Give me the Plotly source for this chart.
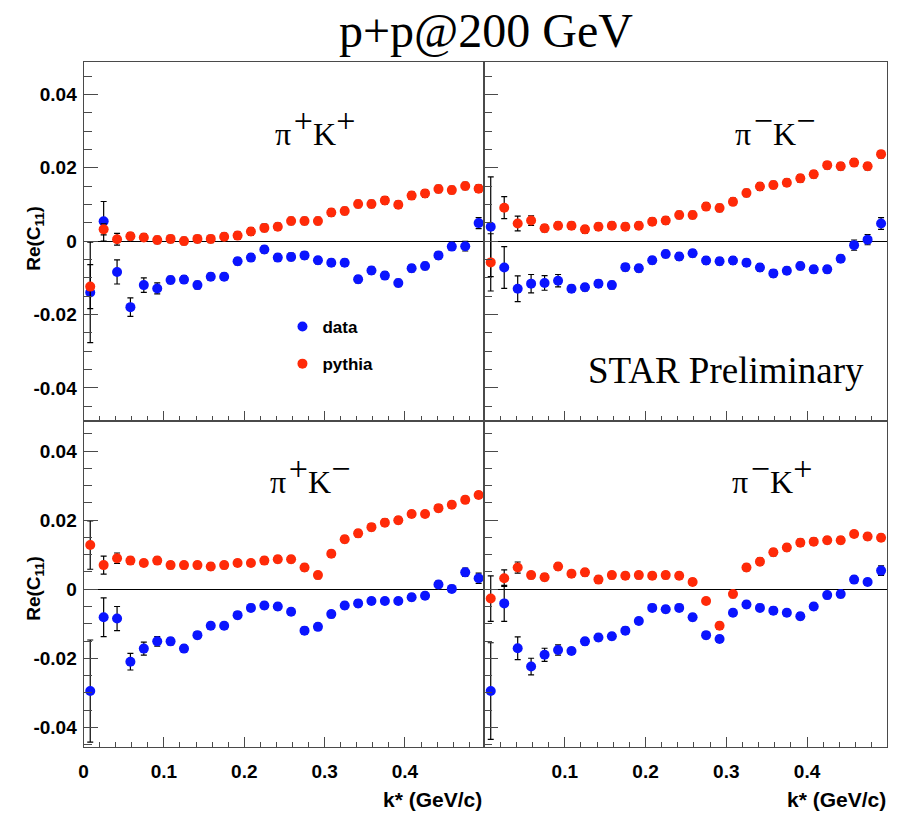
import plotly.graph_objects as go

# Bin centres of k* (GeV/c), 30 bins over 0-0.5
k_star = [0.0083, 0.0250, 0.0417, 0.0583, 0.0750, 0.0917, 0.1083, 0.1250, 0.1417, 0.1583,
          0.1750, 0.1917, 0.2083, 0.2250, 0.2417, 0.2583, 0.2750, 0.2917, 0.3083, 0.3250,
          0.3417, 0.3583, 0.3750, 0.3917, 0.4083, 0.4250, 0.4417, 0.4583, 0.4750, 0.4917]

# pi+ K+
pipkp_data = [-0.0140, 0.0054, -0.0084, -0.0180, -0.0120, -0.0129, -0.0106, -0.0105, -0.0120, -0.0097,
              -0.0097, -0.0055, -0.0045, -0.0023, -0.0045, -0.0043, -0.0039, -0.0052, -0.0059, -0.0059,
              -0.0104, -0.0080, -0.0094, -0.0114, -0.0074, -0.0068, -0.0039, -0.0015, -0.0014, 0.0049]
pipkp_data_err = [0.0137, 0.0054, 0.0033, 0.0025, 0.0020, 0.0015, 0.0010, 0.0010, 0.0010, 0.0010,
                  0.0010, 0.0010, 0.0010, 0.0010, 0.0010, 0.0010, 0.0010, 0.0010, 0.0010, 0.0010,
                  0.0010, 0.0010, 0.0010, 0.0010, 0.0010, 0.0010, 0.0010, 0.0010, 0.0013, 0.0015]
pipkp_pythia = [-0.0124, 0.0032, 0.0005, 0.0013, 0.0010, 0.0003, 0.0006, 0.0000, 0.0006, 0.0006,
                0.0012, 0.0015, 0.0026, 0.0036, 0.0039, 0.0055, 0.0055, 0.0055, 0.0078, 0.0082,
                0.0101, 0.0101, 0.0111, 0.0099, 0.0124, 0.0130, 0.0142, 0.0139, 0.0150, 0.0143]
pipkp_pythia_err = [0.0060, 0.0015, 0.0016, 0.0010, 0.0010, 0.0010, 0.0010, 0.0010, 0.0010, 0.0010,
                    0.0010, 0.0010, 0.0010, 0.0010, 0.0010, 0.0010, 0.0010, 0.0010, 0.0010, 0.0010,
                    0.0010, 0.0010, 0.0010, 0.0010, 0.0010, 0.0010, 0.0010, 0.0010, 0.0010, 0.0010]

# pi- K-
pimkm_data = [0.0039, -0.0072, -0.0130, -0.0116, -0.0114, -0.0108, -0.0130, -0.0126, -0.0116, -0.0120,
              -0.0071, -0.0074, -0.0052, -0.0035, -0.0042, -0.0033, -0.0053, -0.0055, -0.0053, -0.0059,
              -0.0072, -0.0088, -0.0081, -0.0068, -0.0077, -0.0077, -0.0048, -0.0011, 0.0004, 0.0048]
pimkm_data_err = [0.0136, 0.0057, 0.0035, 0.0025, 0.0020, 0.0017, 0.0010, 0.0010, 0.0010, 0.0010,
                  0.0010, 0.0010, 0.0010, 0.0010, 0.0010, 0.0010, 0.0010, 0.0010, 0.0010, 0.0010,
                  0.0010, 0.0010, 0.0010, 0.0010, 0.0010, 0.0010, 0.0010, 0.0014, 0.0014, 0.0016]
pimkm_pythia = [-0.0058, 0.0091, 0.0048, 0.0056, 0.0035, 0.0042, 0.0042, 0.0032, 0.0039, 0.0042,
                0.0039, 0.0042, 0.0053, 0.0056, 0.0071, 0.0071, 0.0094, 0.0090, 0.0107, 0.0131,
                0.0149, 0.0153, 0.0159, 0.0171, 0.0182, 0.0207, 0.0204, 0.0214, 0.0204, 0.0237]
pimkm_pythia_err = [0.0078, 0.0030, 0.0020, 0.0013, 0.0010, 0.0010, 0.0010, 0.0010, 0.0010, 0.0010,
                    0.0010, 0.0010, 0.0010, 0.0010, 0.0010, 0.0010, 0.0010, 0.0010, 0.0010, 0.0010,
                    0.0010, 0.0010, 0.0010, 0.0010, 0.0010, 0.0010, 0.0010, 0.0010, 0.0010, 0.0010]

# pi+ K-
pipkm_data = [-0.0295, -0.0081, -0.0085, -0.0210, -0.0172, -0.0151, -0.0151, -0.0172, -0.0133, -0.0106,
              -0.0106, -0.0075, -0.0054, -0.0047, -0.0050, -0.0065, -0.0120, -0.0109, -0.0072, -0.0047,
              -0.0041, -0.0034, -0.0034, -0.0034, -0.0023, -0.0019, 0.0014, 0.0001, 0.0049, 0.0032]
pipkm_data_err = [0.0148, 0.0056, 0.0035, 0.0024, 0.0019, 0.0014, 0.0010, 0.0010, 0.0010, 0.0010,
                  0.0010, 0.0010, 0.0010, 0.0010, 0.0010, 0.0010, 0.0010, 0.0010, 0.0010, 0.0010,
                  0.0010, 0.0010, 0.0010, 0.0010, 0.0010, 0.0010, 0.0010, 0.0010, 0.0012, 0.0015]
pipkm_pythia = [0.0128, 0.0070, 0.0090, 0.0083, 0.0076, 0.0083, 0.0070, 0.0070, 0.0070, 0.0066,
                0.0070, 0.0076, 0.0076, 0.0083, 0.0087, 0.0087, 0.0063, 0.0041, 0.0103, 0.0145,
                0.0162, 0.0180, 0.0193, 0.0200, 0.0218, 0.0218, 0.0235, 0.0245, 0.0259, 0.0273]
pipkm_pythia_err = [0.0070, 0.0026, 0.0015, 0.0010, 0.0010, 0.0010, 0.0010, 0.0010, 0.0010, 0.0010,
                    0.0010, 0.0010, 0.0010, 0.0010, 0.0010, 0.0010, 0.0010, 0.0010, 0.0010, 0.0010,
                    0.0010, 0.0010, 0.0010, 0.0010, 0.0010, 0.0010, 0.0010, 0.0010, 0.0010, 0.0010]

# pi- K+
pimkp_data = [-0.0295, -0.0041, -0.0171, -0.0224, -0.0190, -0.0176, -0.0179, -0.0151, -0.0140, -0.0136,
              -0.0120, -0.0092, -0.0054, -0.0058, -0.0054, -0.0081, -0.0133, -0.0144, -0.0068, -0.0044,
              -0.0054, -0.0062, -0.0068, -0.0078, -0.0050, -0.0017, -0.0014, 0.0028, 0.0021, 0.0054]
pimkp_data_err = [0.0140, 0.0052, 0.0033, 0.0024, 0.0019, 0.0015, 0.0010, 0.0010, 0.0010, 0.0010,
                  0.0010, 0.0010, 0.0010, 0.0010, 0.0010, 0.0010, 0.0010, 0.0010, 0.0010, 0.0010,
                  0.0010, 0.0010, 0.0010, 0.0010, 0.0010, 0.0010, 0.0010, 0.0010, 0.0010, 0.0014]
pimkp_pythia = [-0.0027, 0.0032, 0.0063, 0.0041, 0.0035, 0.0066, 0.0045, 0.0049, 0.0028, 0.0041,
                0.0039, 0.0041, 0.0039, 0.0041, 0.0039, 0.0021, -0.0034, -0.0106, -0.0014, 0.0063,
                0.0080, 0.0107, 0.0121, 0.0135, 0.0138, 0.0142, 0.0142, 0.0160, 0.0153, 0.0149]
pimkp_pythia_err = [0.0066, 0.0024, 0.0016, 0.0010, 0.0010, 0.0010, 0.0010, 0.0010, 0.0010, 0.0010,
                    0.0010, 0.0010, 0.0010, 0.0010, 0.0010, 0.0010, 0.0010, 0.0010, 0.0010, 0.0010,
                    0.0010, 0.0010, 0.0010, 0.0010, 0.0010, 0.0010, 0.0010, 0.0010, 0.0010, 0.0010]

pair_charges = [("+", "+"), ("−", "−"), ("+", "−"), ("−", "+")]
series_names = ["data", "pythia"]

x_tick_vals = [0, 0.1, 0.2, 0.3, 0.4]
x_tick_text = ["0", "0.1", "0.2", "0.3", "0.4"]
y_tick_vals = [-0.04, -0.02, 0, 0.02, 0.04]
y_tick_text = ["-0.04", "-0.02", "0", "0.02", "0.04"]

DATA_COLOR = "#0a14ff"
PYTHIA_COLOR = "#ff2a08"
FRAME = "#4a4a4a"
SANS = "Liberation Sans"
SERIF = "Liberation Serif"

W, H = 901, 814


def fx(p):
    return p / W


def fy(p):
    return 1 - p / H


def pair_label(pion_charge, kaon_charge):
    sup = '<sup><span style="font-size:34px">{}</span></sup>'
    return "π\u200a" + sup.format(pion_charge) + "K" + sup.format(kaon_charge)


# pixel layout of the 2x2 pad grid
col_px = [(79.0, 481.7), (481.7, 887.3)]
row_px = [(61.7, 420.5), (420.5, 747.3)]
x_ranges = [[0, 0.4984], [0, 0.4995]]
y_ranges = [[-0.0489, 0.0489], [-0.0458, 0.0489]]

panels = [
    (pipkp_data, pipkp_data_err, pipkp_pythia, pipkp_pythia_err),
    (pimkm_data, pimkm_data_err, pimkm_pythia, pimkm_pythia_err),
    (pipkm_data, pipkm_data_err, pipkm_pythia, pipkm_pythia_err),
    (pimkp_data, pimkp_data_err, pimkp_pythia, pimkp_pythia_err),
]

fig = go.Figure()
layout_axes = {}

for i, (d, de, p, pe) in enumerate(panels):
    row, col = divmod(i, 2)
    n = i + 1
    xa = "x" if n == 1 else f"x{n}"
    ya = "y" if n == 1 else f"y{n}"
    for name, vals, errs, color in [(series_names[0], d, de, DATA_COLOR),
                                    (series_names[1], p, pe, PYTHIA_COLOR)]:
        fig.add_trace(go.Scatter(
            x=k_star, y=vals, mode="markers", name=name,
            legendgroup=name, showlegend=(i == 0),
            marker=dict(color=color, size=10, line=dict(width=0)),
            error_y=dict(type="data", array=errs, color="black", thickness=1.2, width=3),
            xaxis=xa, yaxis=ya,
        ))

    xk = "xaxis" if n == 1 else f"xaxis{n}"
    yk = "yaxis" if n == 1 else f"yaxis{n}"
    x0, x1 = col_px[col]
    y0, y1 = row_px[row]
    show_x_labels = row == 1
    xt = list(x_tick_text)
    if col == 1:
        xt[0] = ""
    layout_axes[xk] = dict(
        domain=[fx(x0), fx(x1)], range=x_ranges[col], anchor=ya,
        showline=True, linecolor=FRAME, linewidth=1, mirror=True,
        ticks="inside", ticklen=10, tickwidth=1.2, tickcolor=FRAME,
        tickmode="array", tickvals=x_tick_vals, ticktext=xt,
        showticklabels=show_x_labels, ticklabelstandoff=7,
        tickfont=dict(family=SANS, size=19, color="black", weight="bold"),
        minor=dict(dtick=0.02, tick0=0, ticks="inside", ticklen=5, tickwidth=1.2, tickcolor=FRAME),
        showgrid=False, zeroline=False,
    )
    layout_axes[yk] = dict(
        domain=[fy(y1), fy(y0)], range=y_ranges[row], anchor=xa,
        showline=True, linecolor=FRAME, linewidth=1, mirror=True,
        ticks="inside", ticklen=14, tickwidth=1.2, tickcolor=FRAME,
        tickmode="array", tickvals=y_tick_vals, ticktext=y_tick_text,
        showticklabels=(col == 0), ticklabelstandoff=2,
        tickfont=dict(family=SANS, size=19, color="black", weight="bold"),
        minor=dict(dtick=0.005, tick0=0, ticks="inside", ticklen=8, tickwidth=1.2, tickcolor=FRAME),
        showgrid=False, zeroline=True, zerolinecolor="black", zerolinewidth=1.2,
    )

annotations = []
# panel labels
label_pos = [(312, 127), (774, 127), (307, 475), (771, 475)]
for (qpi, qk), (px, py) in zip(pair_charges, label_pos):
    annotations.append(dict(text=pair_label(qpi, qk), x=fx(px), y=fy(py), xref="paper", yref="paper",
                            showarrow=False, xanchor="center", yanchor="middle",
                            font=dict(family=SERIF, size=32, color="black")))
# title
annotations.append(dict(text="p+p@200 GeV", x=fx(484), y=fy(30), xref="paper", yref="paper",
                        showarrow=False, xanchor="center", yanchor="middle",
                        font=dict(family=SERIF, size=48, color="black")))
# preliminary tag
annotations.append(dict(text="STAR Preliminary", x=fx(725), y=fy(370), xref="paper", yref="paper",
                        showarrow=False, xanchor="center", yanchor="middle",
                        font=dict(family=SERIF, size=37, color="black")))
# y-axis titles
for py in (238, 588):
    annotations.append(dict(text="Re(C<sub>11</sub>)", x=fx(30), y=fy(py), xref="paper", yref="paper",
                            showarrow=False, xanchor="center", yanchor="middle", textangle=-90,
                            font=dict(family=SANS, size=19, color="black", weight="bold")))
# x-axis titles
for px in (482, 888):
    annotations.append(dict(text="k* (GeV/c)", x=fx(px), y=fy(799), xref="paper", yref="paper",
                            showarrow=False, xanchor="right", yanchor="middle",
                            font=dict(family=SANS, size=21, color="black", weight="bold")))

fig.update_layout(
    width=W, height=H,
    margin=dict(l=0, r=0, t=0, b=0),
    paper_bgcolor="white", plot_bgcolor="white",
    annotations=annotations,
    legend=dict(x=fx(279), y=fy(309), xanchor="left", yanchor="top",
                bgcolor="rgba(0,0,0,0)", traceorder="grouped", tracegroupgap=12,
                itemwidth=30,
                font=dict(family=SANS, size=17, color="black", weight="bold")),
    **layout_axes,
)

fig.write_html("out.html")
